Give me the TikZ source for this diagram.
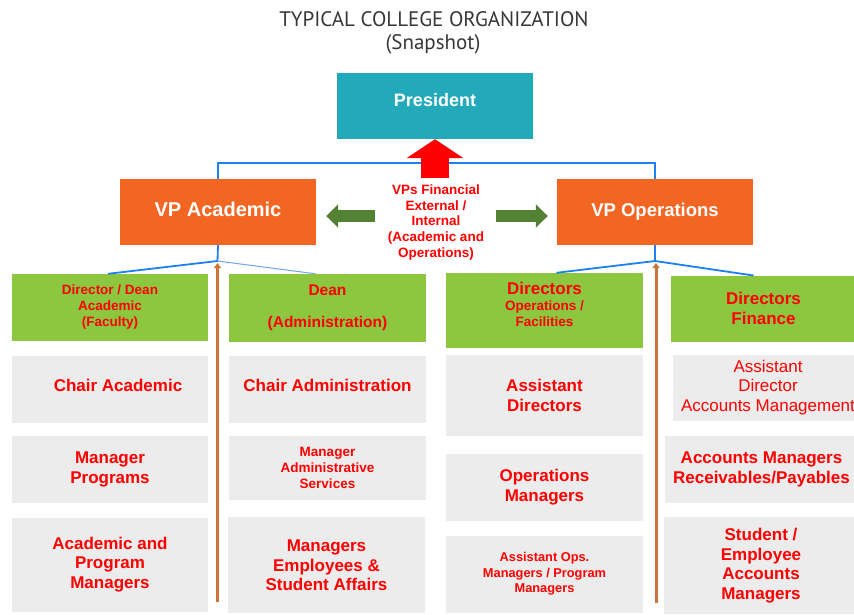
\documentclass[tikz,border=0pt]{standalone}
\usepackage{fontspec}
\setmainfont{Liberation Sans}
\newfontfamily\headfont{PT Sans}
\usepackage{xcolor}
\usepackage{tikz}
\usetikzlibrary{arrows.meta}
\definecolor{presteal}{RGB}{34,170,186}
\definecolor{vporange}{RGB}{242,101,34}
\definecolor{dirgreen}{RGB}{141,198,63}
\definecolor{unitgray}{RGB}{236,236,236}
\definecolor{linkblue}{RGB}{30,128,240}
\definecolor{lightlink}{RGB}{110,165,235}
\definecolor{arrowgreen}{RGB}{84,130,53}
\definecolor{rustorange}{RGB}{204,115,55}
\definecolor{titlegray}{RGB}{55,55,55}
\definecolor{labelred}{RGB}{255,0,0}
\tikzset{
    titletext/.style={text=titlegray, inner sep=0pt, font=\headfont\fontsize{21}{24}\selectfont},
    topbox/.style={rectangle, fill=presteal, minimum width=196pt, minimum height=66pt, text=white, font=\fontsize{18}{21}\selectfont\bfseries},
    vpbox/.style={rectangle, fill=vporange, minimum width=196pt, minimum height=66pt, text=white, font=\fontsize{20}{24}\selectfont\bfseries},
    midtext/.style={inner sep=0pt, text=labelred, align=center, font=\fontsize{13.5}{15.8}\selectfont\bfseries},
    dirbox/.style={rectangle, fill=dirgreen, inner sep=0pt, text=labelred, align=center},
    unitbox/.style={rectangle, fill=unitgray, inner sep=0pt, text=labelred, align=center},
    bigtext/.style={font=\fontsize{17}{19.8}\selectfont\bfseries},
    smalltext/.style={font=\fontsize{13.5}{16}\selectfont\bfseries},
    link/.style={linkblue, line width=1.8pt},
    thinlink/.style={lightlink, line width=1pt},
    fatarrow/.style={arrowgreen, line width=12pt, -{Triangle[length=12pt, width=23pt]}},
    redarrow/.style={labelred, line width=28pt, -{Triangle[length=19pt, width=56pt]}},
    riseline/.style={rustorange, line width=3pt, -{Triangle[length=5pt, width=7pt]}}
}

\begin{document}
\begin{tikzpicture}[x=1pt, y=-1pt]
    \fill[white] (0,0) rectangle (854,614);
    \useasboundingbox (0,0) rectangle (854,614);

    % Heading
    \node[titletext] (title) at (434,19) {TYPICAL COLLEGE ORGANIZATION};
    \node[titletext] (subtitle) at (433,44) {(Snapshot)};

    % President and vice presidents
    \node[topbox, text depth=13pt] (president) at (435,106) {President};
    \node[vpbox, text depth=5pt] (vpacad) at (218,212) {VP Academic};
    \node[vpbox, font=\fontsize{18.5}{22}\selectfont\bfseries] (vpops) at (655,212) {VP Operations};
    \node[midtext] (vpfin) at (436,222.5) {VPs Financial\\External /\\Internal\\(Academic and\\Operations)};

    % Directors and deans
    \node[dirbox, smalltext, minimum width=196pt, minimum height=67pt] (dirdean) at (110,307.5) {Director / Dean\\Academic\\(Faculty)};
    \node[dirbox, font=\fontsize{15.5}{16.2}\selectfont\bfseries, minimum width=197pt, minimum height=68pt] (deanadm) at (327.5,308) {Dean\\[16pt](Administration)};
    \node[dirbox, smalltext, text depth=13pt, minimum width=197pt, minimum height=75pt] (dirops) at (544.5,310.5) {{\fontsize{17}{18}\selectfont Directors}\\Operations /\\Facilities};
    \node[dirbox, bigtext, minimum width=186pt, minimum height=66pt] (dirfin) at (763.5,308.7) {Directors\\Finance};

    % Academic column
    \node[unitbox, bigtext, text depth=8pt, minimum width=196pt, minimum height=67pt] (chairacad) at (110,389.3) {\hspace*{16pt}Chair Academic};
    \node[unitbox, bigtext, minimum width=196pt, minimum height=67pt] (mgrprog) at (110,469.3) {Manager\\Programs};
    \node[unitbox, bigtext, minimum width=196pt, minimum height=94pt] (acadmgr) at (110,564.5) {Academic and\\Program\\Managers};

    % Administration column
    \node[unitbox, bigtext, text depth=8pt, minimum width=197pt, minimum height=67pt] (chairadm) at (327.5,389.3) {Chair Administration};
    \node[unitbox, smalltext, minimum width=197pt, minimum height=64pt] (mgradm) at (327.5,468) {Manager\\Administrative\\Services};
    \node[unitbox, bigtext, minimum width=197pt, minimum height=96pt] (mgremp) at (326.5,565.3) {Managers\\Employees \&\\Student Affairs};

    % Operations column
    \node[unitbox, bigtext, minimum width=197pt, minimum height=81pt] (asstdir) at (544.5,395.3) {Assistant\\Directors};
    \node[unitbox, bigtext, minimum width=197pt, minimum height=67pt] (opsmgr) at (544.5,487.3) {Operations\\Managers};
    \node[unitbox, font=\fontsize{12.8}{15.5}\selectfont\bfseries, minimum width=197pt, minimum height=77pt] (asstops) at (544.5,574) {Assistant Ops.\\Managers / Program\\Managers};

    % Finance column
    \node[unitbox, font=\fontsize{17}{19.7}\selectfont, minimum width=190pt, minimum height=66pt] (asstacct) at (768,387.5) {Assistant\\Director\\Accounts Management};
    \node[unitbox, bigtext, minimum width=194pt, minimum height=67pt] (acctmgr) at (761.5,469.3) {Accounts Managers\\Receivables/Payables};
    \node[unitbox, bigtext, minimum width=195pt, minimum height=97pt] (studacct) at (761,565.7) {Student /\\Employee\\Accounts\\Managers};

    % Reporting lines
    \coordinate (acjoin) at (217.5,261);
    \coordinate (opjoin) at (655,261);
    \draw[link] (vpacad.north) -- ++(0,-16) -| (vpops.north);
    \draw[link] (vpacad.south) -- (acjoin) -- ([xshift=-2pt]dirdean.north);
    \draw[thinlink] (acjoin) -- ([xshift=-12pt]deanadm.north);
    \draw[link] (vpops.south) -- (opjoin) -- ([xshift=12pt]dirops.north);
    \draw[link] (opjoin) -- ([xshift=-10pt]dirfin.north);

    % Arrows around the financial VPs
    \coordinate (riseroot) at (435,178);
    \draw[redarrow] (riseroot) -- (president.south);
    \draw[fatarrow, shorten <=13pt, shorten >=10pt] (vpfin.west |- 0,216) -- (vpacad.east |- 0,216);
    \draw[fatarrow, shorten <=12pt, shorten >=9pt] (vpfin.east |- 0,216) -- (vpops.west |- 0,216);

    % Upward arrows between columns
    \coordinate (acbase) at (217.5,602);
    \coordinate (opbase) at (656,603);
    \draw[riseline, shorten >=2pt] (acbase) -- (acjoin);
    \draw[riseline, shorten >=2pt] (opbase) -- (opbase |- opjoin);
\end{tikzpicture}
\end{document}
